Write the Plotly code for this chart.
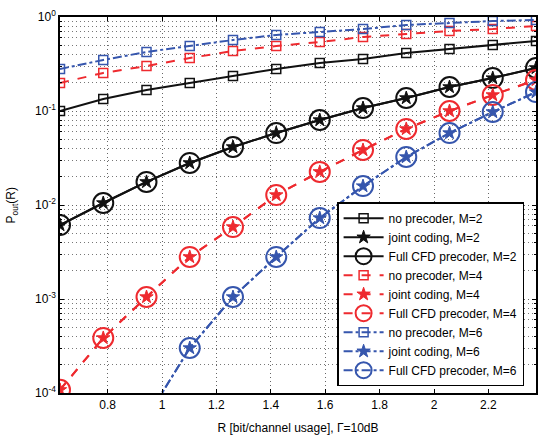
import plotly.graph_objects as go

R = [0.625, 0.784, 0.943, 1.102, 1.261, 1.420, 1.580, 1.739, 1.898, 2.057, 2.216, 2.375]

nopre_M2 = [0.100, 0.134, 0.167, 0.199, 0.236, 0.280, 0.324, 0.357, 0.414, 0.457, 0.504, 0.556]
nopre_M4 = [0.199, 0.254, 0.301, 0.366, 0.435, 0.491, 0.542, 0.613, 0.659, 0.710, 0.745, 0.802]
nopre_M6 = [0.280, 0.349, 0.425, 0.491, 0.569, 0.644, 0.693, 0.745, 0.822, 0.863, 0.906, 0.929]

joint_M2 = [0.00612, 0.0105, 0.0176, 0.0280, 0.0414, 0.0583, 0.0802, 0.1076, 0.1375, 0.180, 0.224, 0.287]
joint_M4 = [1.08e-4, 3.85e-4, 1.05e-3, 2.80e-3, 5.83e-3, 0.01277, 0.0225, 0.0385, 0.0644, 0.100, 0.148, 0.214]
joint_M6 = [None, None, 5.4e-5, 3.01e-4, 1.05e-3, 2.80e-3, 7.27e-3, 0.0159, 0.0324, 0.0583, 0.0976, 0.159]

cfd_M2 = list(joint_M2)
cfd_M4 = list(joint_M4)
cfd_M6 = list(joint_M6)

BLACK = "#111111"
RED = "#ee2a2f"
BLUE = "#3656ad"

ytick_vals = [1e-4, 1e-3, 1e-2, 1e-1, 1]
ytick_text = ["10<sup>-4</sup>", "10<sup>-3</sup>", "10<sup>-2</sup>", "10<sup>-1</sup>", "10<sup>0</sup>"]
xtick_vals = [0.8, 1.0, 1.2, 1.4, 1.6, 1.8, 2.0, 2.2]
xtick_text = ["0.8", "1", "1.2", "1.4", "1.6", "1.8", "2", "2.2"]

minor_vals = [k * 10 ** e for e in range(-4, 0) for k in range(2, 10)]

fig = go.Figure()

series = [
    ("no precoder, M=2", nopre_M2, BLACK, "solid", "square-open", 9, 1.5),
    ("joint coding, M=2", joint_M2, BLACK, "solid", "star", 10, 1),
    ("Full CFD precoder, M=2", cfd_M2, BLACK, "solid", "circle-open", 20, 2),
    ("no precoder, M=4", nopre_M4, RED, "dash", "square-open", 9, 1.5),
    ("joint coding, M=4", joint_M4, RED, "dash", "star", 10, 1),
    ("Full CFD precoder, M=4", cfd_M4, RED, "dash", "circle-open", 20, 2),
    ("no precoder, M=6", nopre_M6, BLUE, "dashdot", "square-open", 9, 1.5),
    ("joint coding, M=6", joint_M6, BLUE, "dashdot", "star", 10, 1),
    ("Full CFD precoder, M=6", cfd_M6, BLUE, "dashdot", "circle-open", 20, 2),
]

for name, ys, col, dash, sym, sz, mlw in series:
    fig.add_trace(go.Scatter(
        x=R, y=ys, name=name, mode="lines+markers",
        line=dict(color=col, width=2, dash=dash),
        marker=dict(symbol=sym, size=sz, color=col, line=dict(color=col, width=mlw)),
        connectgaps=False, cliponaxis=True,
    ))

fig.update_layout(
    width=542, height=442,
    margin=dict(l=60, r=4, t=17, b=49),
    paper_bgcolor="white", plot_bgcolor="white",
    font=dict(family="Liberation Sans, Arial, sans-serif", size=12, color="black"),
    legend=dict(
        x=0.975, y=0.018, xanchor="right", yanchor="bottom",
        bgcolor="white", bordercolor="black", borderwidth=1.5,
        font=dict(size=12), tracegroupgap=0, itemwidth=40,
    ),
    annotations=[dict(
        text="P<sub>out</sub>(R)", textangle=-90, xref="paper", yref="paper",
        x=-0.1, y=0.5, xanchor="center", yanchor="middle", showarrow=False,
        font=dict(size=12),
    )],
)

fig.update_xaxes(
    range=[0.625, 2.375],
    tickmode="array", tickvals=xtick_vals, ticktext=xtick_text,
    ticks="inside", ticklen=4, tickcolor="black",
    showline=True, linecolor="black", linewidth=1.5, mirror="ticks",
    showgrid=True, gridcolor="#666666", griddash="1px,3px", gridwidth=1,
    zeroline=False,
    title=dict(text="R [bit/channel usage], Γ=10dB", font=dict(size=12), standoff=12),
)
fig.update_yaxes(
    type="log", range=[-4, 0],
    tickmode="array", tickvals=ytick_vals, ticktext=ytick_text,
    ticks="inside", ticklen=4, tickcolor="black",
    showline=True, linecolor="black", linewidth=1.5, mirror="ticks",
    showgrid=True, gridcolor="#666666", griddash="1px,3px", gridwidth=1,
    minor=dict(tickmode="array", tickvals=minor_vals, ticks="inside", ticklen=2,
               tickcolor="black", showgrid=True, gridcolor="#777777", griddash="1px,3px"),
    zeroline=False,
)

fig.write_html("out.html")
